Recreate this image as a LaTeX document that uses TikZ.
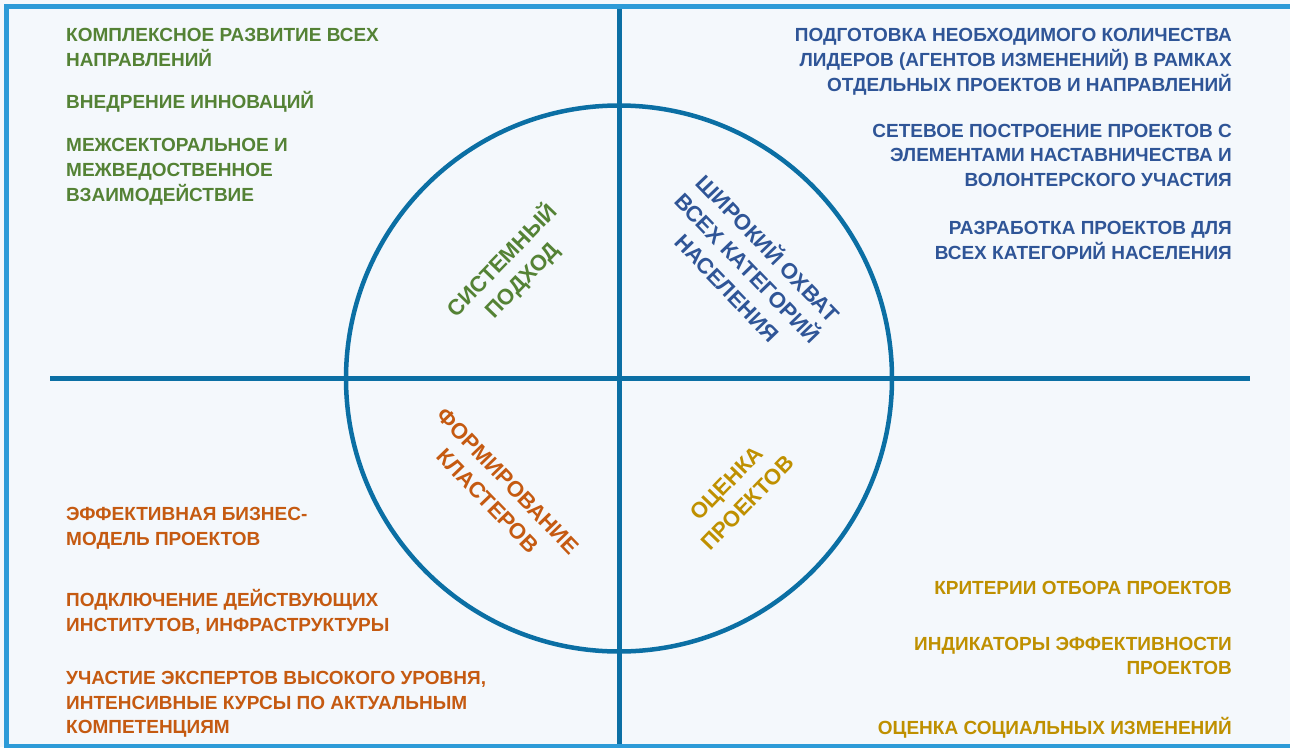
\documentclass[tikz,border=0pt]{standalone}
\usepackage{fontspec}
\setmainfont{Liberation Sans}
\definecolor{bgpale}{HTML}{F4F8FC}
\definecolor{framebl}{HTML}{2D9BD8}
\definecolor{linebl}{HTML}{0B6FA4}
\definecolor{txgreen}{HTML}{548235}
\definecolor{txblue}{HTML}{2F5597}
\definecolor{txorange}{HTML}{C55A11}
\definecolor{txgold}{HTML}{BF9000}
\newcommand\topstrut{\rule{0pt}{19pt}}

\begin{document}
\begin{tikzpicture}[x=1pt,y=-1pt]
\tikzstyle{txt}=[inner sep=0pt, font=\bfseries\fontsize{19}{24.7}\selectfont]
\tikzstyle{lft}=[txt, anchor=north west, align=left]
\tikzstyle{rgt}=[txt, anchor=north east, align=right]
\tikzstyle{mid}=[inner sep=0pt, font=\bfseries\fontsize{22}{28.5}\selectfont, align=center]

% Background and frame
\fill[bgpale] (0,0) rectangle (1290,747);
\useasboundingbox (0,0) rectangle (1290,747);
\draw[framebl, line width=5pt] (1295,6.5) -- (6.5,6.5) -- (6.5,746) -- (1295,746);

% Cross and circle
\coordinate (c) at (619,378.5);
\draw[linebl, line width=5pt] (619,9) -- (619,744);
\draw[linebl, line width=5pt] (50,378.5) -- (1250,378.5);
\draw[linebl, line width=4.5pt] (c) circle (273);

% Labels in the circle
\node[mid, txgreen, rotate=46] (sys) at (512,270) {СИСТЕМНЫЙ\\ПОДХОД};
\node[mid, txblue, rotate=-46] (cov) at (749,267) {ШИРОКИЙ ОХВАТ\\ВСЕХ КАТЕГОРИЙ\\НАСЕЛЕНИЯ};
\node[mid, txorange, rotate=-46] (clu) at (498,491) {ФОРМИРОВАНИЕ\\КЛАСТЕРОВ};
\node[mid, txgold, rotate=46] (eval) at (737,493) {ОЦЕНКА\\ПРОЕКТОВ};

% Top left: green
\node[lft, txgreen] (tl1) at (66,22.7) {\topstrut КОМПЛЕКСНОЕ РАЗВИТИЕ ВСЕХ\\НАПРАВЛЕНИЙ};
\node[lft, txgreen] (tl2) at (66,89.3) {\topstrut ВНЕДРЕНИЕ ИННОВАЦИЙ};
\node[lft, txgreen] (tl3) at (66,132.7) {\topstrut МЕЖСЕКТОРАЛЬНОЕ И\\МЕЖВЕДОСТВЕННОЕ\\ВЗАИМОДЕЙСТВИЕ};

% Top right: blue
\node[rgt, txblue] (tr1) at (1232,22.6) {\topstrut ПОДГОТОВКА НЕОБХОДИМОГО КОЛИЧЕСТВА\\ЛИДЕРОВ (АГЕНТОВ ИЗМЕНЕНИЙ) В РАМКАХ\\ОТДЕЛЬНЫХ ПРОЕКТОВ И НАПРАВЛЕНИЙ};
\node[rgt, txblue] (tr2) at (1232,118) {\topstrut СЕТЕВОЕ ПОСТРОЕНИЕ ПРОЕКТОВ С\\ЭЛЕМЕНТАМИ НАСТАВНИЧЕСТВА И\\ВОЛОНТЕРСКОГО УЧАСТИЯ};
\node[rgt, txblue] (tr3) at (1232,215.3) {\topstrut РАЗРАБОТКА ПРОЕКТОВ ДЛЯ\\ВСЕХ КАТЕГОРИЙ НАСЕЛЕНИЯ};

% Bottom left: orange
\node[lft, txorange] (bl1) at (66,501.7) {\topstrut ЭФФЕКТИВНАЯ БИЗНЕС-\\МОДЕЛЬ ПРОЕКТОВ};
\node[lft, txorange] (bl2) at (66,587.7) {\topstrut ПОДКЛЮЧЕНИЕ ДЕЙСТВУЮЩИХ\\ИНСТИТУТОВ, ИНФРАСТРУКТУРЫ};
\node[lft, txorange] (bl3) at (66,665.3) {\topstrut УЧАСТИЕ ЭКСПЕРТОВ ВЫСОКОГО УРОВНЯ,\\ИНТЕНСИВНЫЕ КУРСЫ ПО АКТУАЛЬНЫМ\\КОМПЕТЕНЦИЯМ};

% Bottom right: gold
\node[rgt, txgold] (br1) at (1232,575.3) {\topstrut КРИТЕРИИ ОТБОРА ПРОЕКТОВ};
\node[rgt, txgold] (br2) at (1232,631) {\topstrut ИНДИКАТОРЫ ЭФФЕКТИВНОСТИ\\ПРОЕКТОВ};
\node[rgt, txgold] (br3) at (1232,715) {\topstrut ОЦЕНКА СОЦИАЛЬНЫХ ИЗМЕНЕНИЙ};

\end{tikzpicture}
\end{document}
